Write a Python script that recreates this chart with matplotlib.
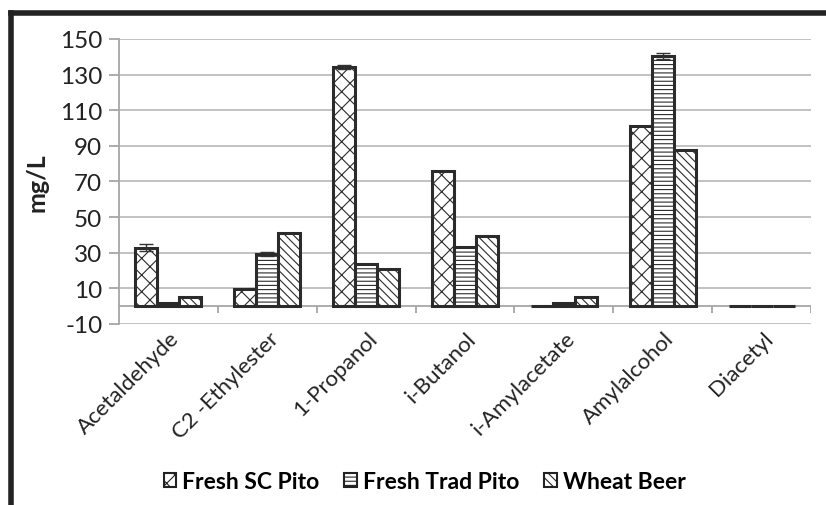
import matplotlib
matplotlib.use("Agg")
import matplotlib.pyplot as plt
import numpy as np
from matplotlib.lines import Line2D
import matplotlib.transforms as mtransforms

plt.rcParams['font.family'] = ['Lato', 'DejaVu Sans']
plt.rcParams['axes.unicode_minus'] = False
plt.rcParams['hatch.color'] = '#333333'
plt.rcParams['hatch.linewidth'] = 0.8

compounds = ['Acetaldehyde', 'C2 -Ethylester', '1-Propanol', 'i-Butanol',
             'i-Amylacetate', 'Amylalcohol', 'Diacetyl']
series = ['Fresh SC Pito', 'Fresh Trad Pito', 'Wheat Beer']
fresh_sc = [32.8, 9.7, 134.4, 76.0, 0.3, 101.0, 0.3]
fresh_trad = [1.8, 29.2, 23.7, 33.0, 1.6, 140.4, 0.3]
wheat = [5.3, 41.0, 20.9, 39.4, 5.0, 87.4, 0.3]
fresh_sc_err = [1.8, 0, 1.2, 0, 0, 0, 0]
fresh_trad_err = [0, 1.0, 0, 0, 0, 1.8, 0]
wheat_err = [0, 0, 0, 0, 0, 0, 0]
yticks = list(range(-10, 151, 20))

values = [fresh_sc, fresh_trad, wheat]
errors = [fresh_sc_err, fresh_trad_err, wheat_err]
hatches = ['xx', '----', '\\\\\\\\']

fig = plt.figure(figsize=(8.26, 5.06), dpi=100)
ax = fig.add_axes([0.144, 0.358, 0.838, 0.563])

x = np.arange(len(compounds))
w = 0.222
for i, (vals, errs, h) in enumerate(zip(values, errors, hatches)):
    pos = x + (i - 1) * w
    ax.bar(pos, vals, width=w, color='white', edgecolor='#2b2b2b',
           linewidth=2.2, hatch=h, label=series[i], zorder=3)
    e = np.array(errs)
    m = e > 0
    ax.errorbar(pos[m], np.array(vals)[m], yerr=e[m], fmt='none',
                ecolor='#333333', elinewidth=1, capsize=5, capthick=1, zorder=4)

ax.set_xlim(-0.5, len(compounds) - 0.5)
ax.set_ylim(-10, 150)
ax.set_yticks(yticks)
ax.yaxis.grid(True, color='#bdbdbd', linewidth=1.3, zorder=0)
ax.set_axisbelow(True)
for s in ['top', 'right', 'bottom']:
    ax.spines[s].set_visible(False)
ax.spines['left'].set_color('#a6a6a6')
ax.spines['left'].set_linewidth(1.3)
ax.tick_params(axis='y', length=7, width=1.3, color='#a6a6a6',
               labelsize=17.5, labelcolor='#222222', pad=5)

# category axis at zero with separator ticks
ax.axhline(0, color='#a6a6a6', linewidth=1.3, zorder=2)
bounds = np.arange(0, len(compounds) + 1) - 0.5
ax.vlines(bounds[1:], -4, 0, color='#a6a6a6', linewidth=1.3, zorder=2)

ax.set_xticks(x)
ax.tick_params(axis='x', length=0, pad=8)
ax.set_xticklabels(compounds, rotation=45, ha='right', va='center',
                   rotation_mode='anchor', fontsize=16, color='#222222')
offset = mtransforms.ScaledTranslation(0.08, 0, fig.dpi_scale_trans)
for lbl in ax.get_xticklabels():
    lbl.set_transform(lbl.get_transform() + offset)

ax.set_ylabel('mg/L', fontsize=18, fontweight='bold', color='#222222', labelpad=8)

leg = fig.legend(loc='center', bbox_to_anchor=(0.514, 0.047), ncol=3,
                 frameon=False, handlelength=0.55, handleheight=0.55,
                 handletextpad=0.25, columnspacing=1.1,
                 prop={'size': 16.5, 'weight': 'bold'})
for p in leg.get_patches():
    p.set_linewidth(1.5)
    p.set_edgecolor('#222222')

# outer frame (top and left edges)
fig.add_artist(Line2D([0.0135, 1.0], [0.972, 0.972], color='#222222',
                      linewidth=4, transform=fig.transFigure))
fig.add_artist(Line2D([0.0135, 0.0135], [0.0, 0.972], color='#222222',
                      linewidth=4, transform=fig.transFigure, solid_capstyle='projecting'))

fig.savefig('out.png', dpi=100)
